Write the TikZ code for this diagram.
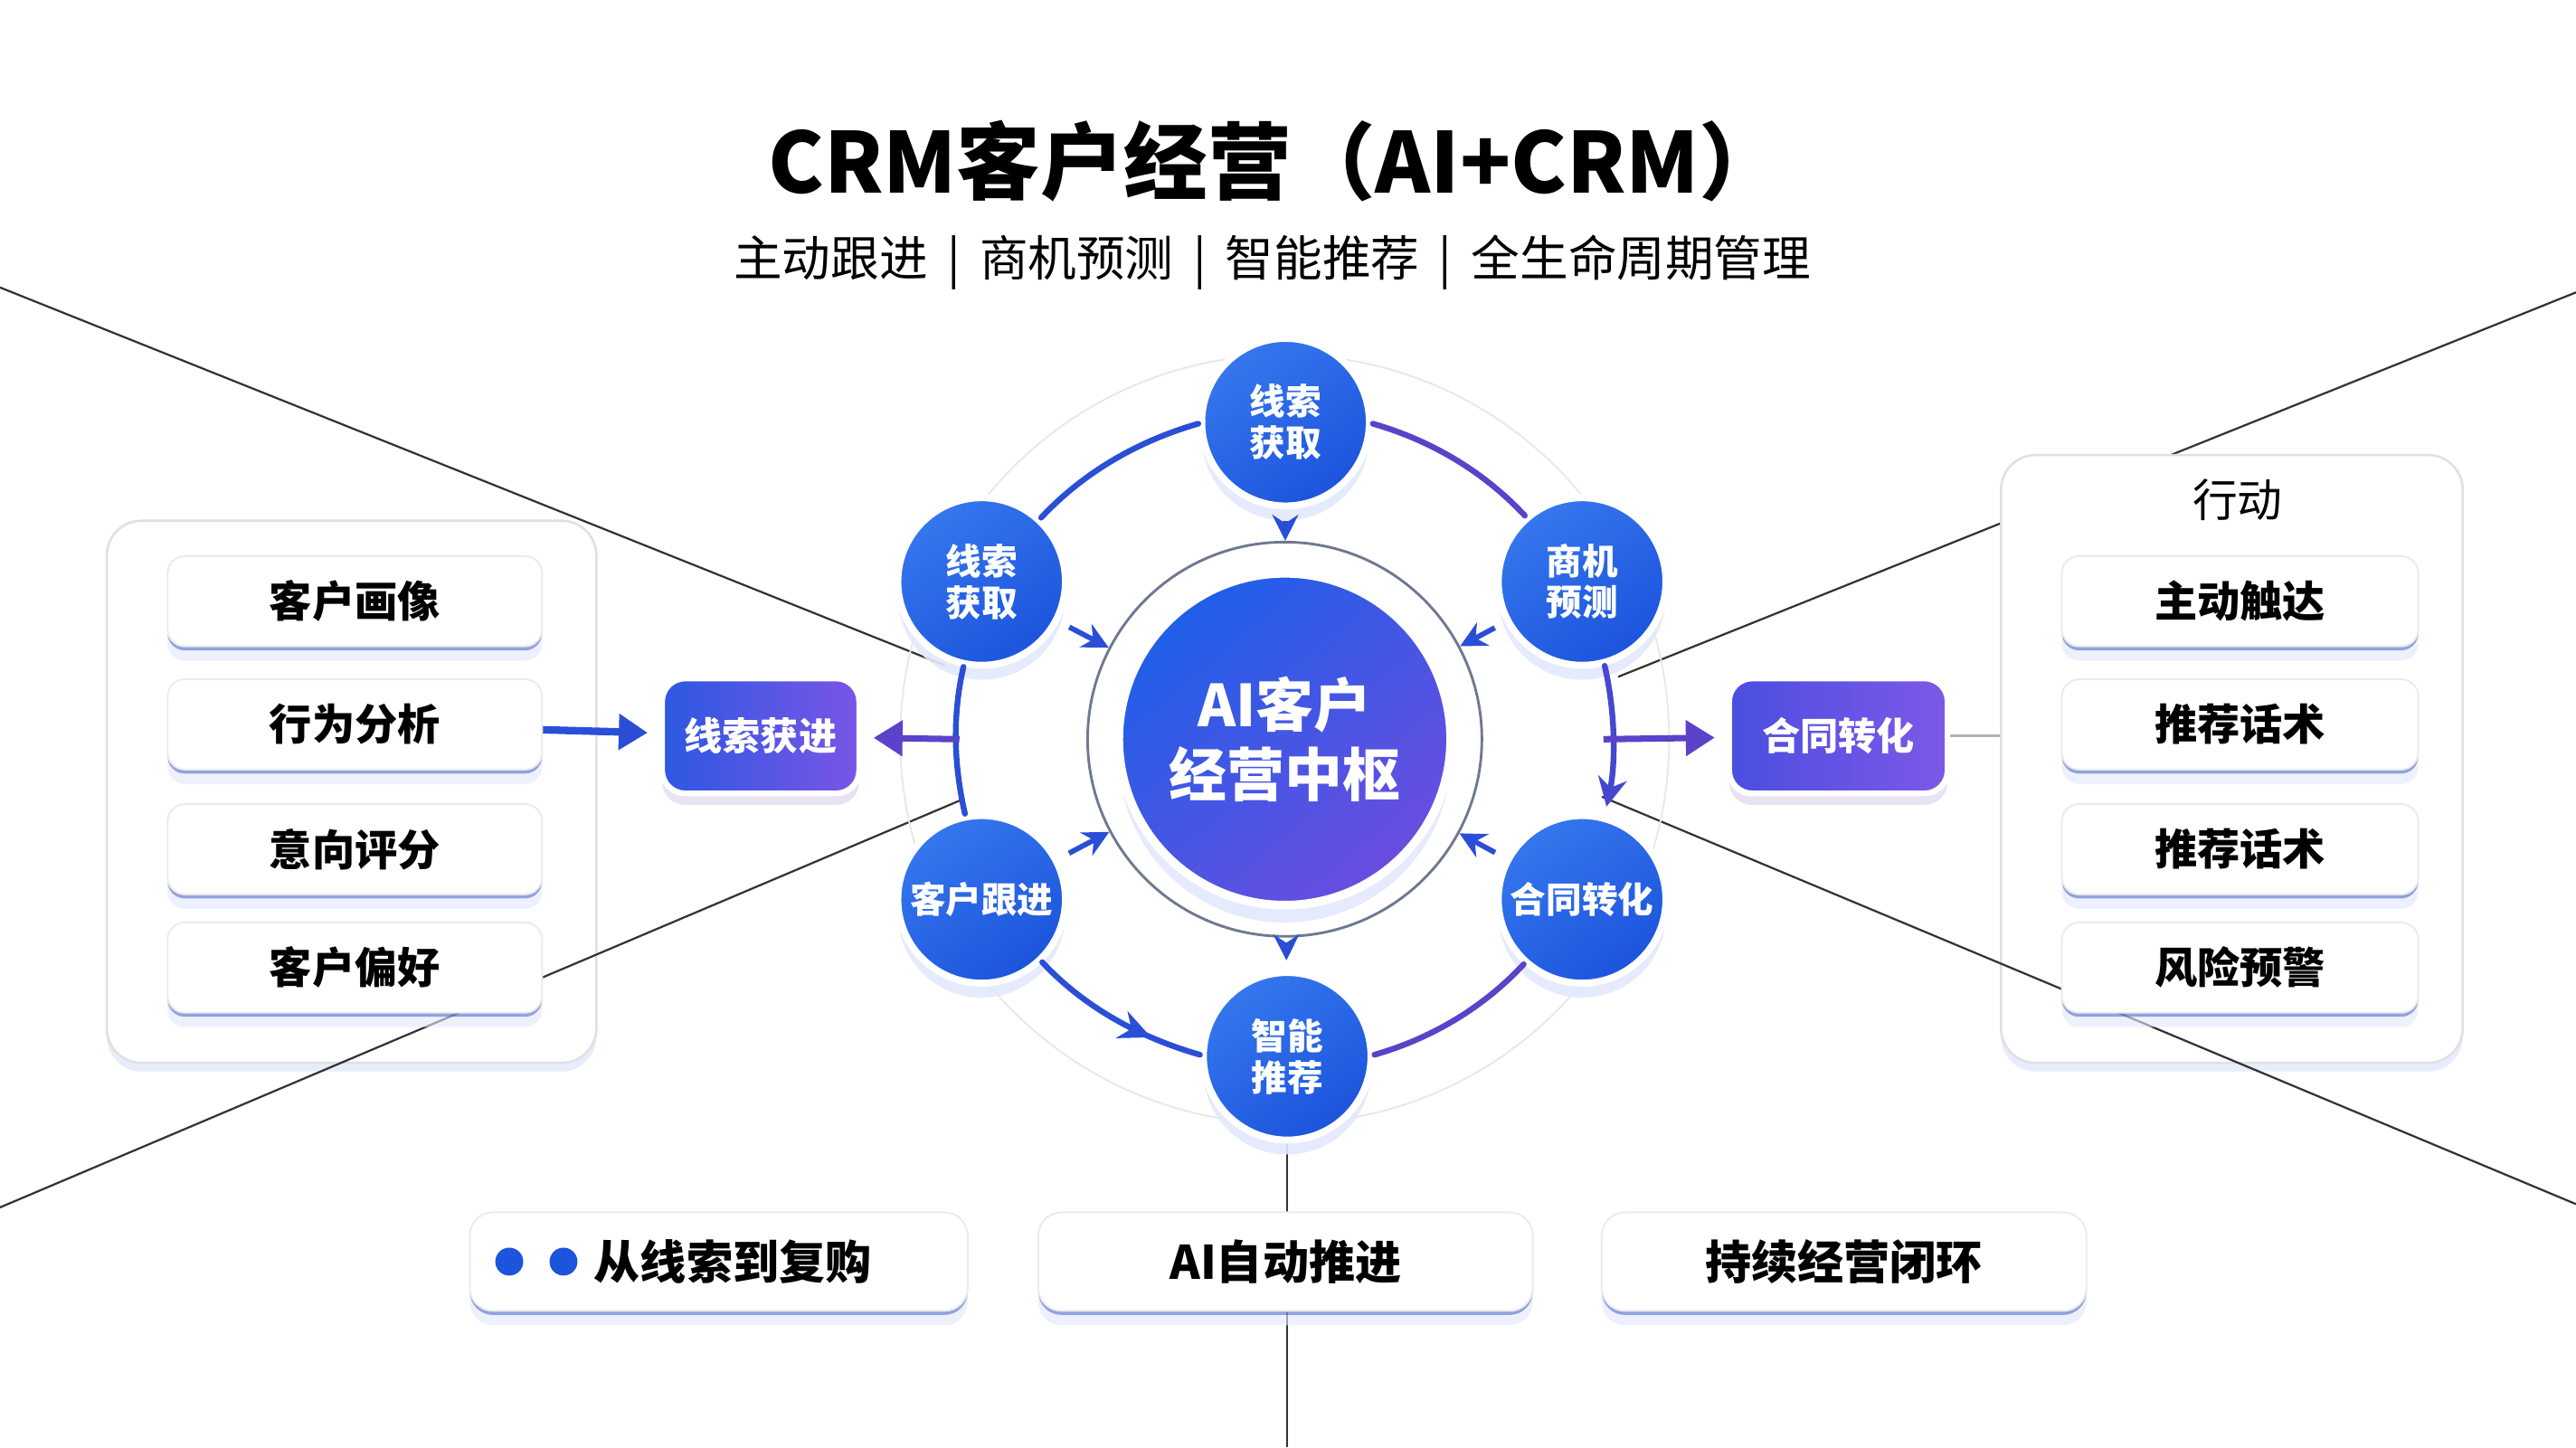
\documentclass[tikz,border=0pt]{standalone}
\usepackage{fontspec}
\setmainfont{Noto Sans CJK SC}
\usepackage{tikz}
\usetikzlibrary{arrows.meta,shadows,decorations.markings}
\definecolor{hubblue}{HTML}{1F5FE8}
\definecolor{hubpurple}{HTML}{6A4DE0}
\definecolor{satblue}{HTML}{1C54DC}
\definecolor{satlight}{HTML}{3577EE}
\definecolor{arcblue}{HTML}{2A4FD6}
\definecolor{arcpurple}{HTML}{5B42C9}
\definecolor{glowblue}{HTML}{E3E9FC}
\definecolor{edgeblue}{HTML}{3454C8}
\definecolor{leadleft}{HTML}{2C58E2}
\definecolor{leadright}{HTML}{7B55E6}
\definecolor{dealleft}{HTML}{4A4EE0}
\definecolor{dealright}{HTML}{7E58E8}
\definecolor{ringgray}{HTML}{6F7890}

\begin{document}
\begin{tikzpicture}[
  every node/.style={inner sep=0pt},
  sat/.style={circle, minimum size=1.02cm, top color=satlight, bottom color=satblue, shading angle=35,
    draw=white, line width=1.2pt, text=white, align=center, font=\bfseries\fontsize{6.2}{7.2}\selectfont,
    drop shadow={shadow xshift=0pt, shadow yshift=-2.5pt, fill=glowblue, opacity=0.9}},
  hubnode/.style={circle, minimum size=2.02cm, top color=hubblue, bottom color=hubpurple, shading angle=40,
    draw=white, line width=1.5pt, text=white, align=center, font=\bfseries\fontsize{10}{12}\selectfont,
    drop shadow={shadow xshift=0pt, shadow yshift=-3pt, fill=glowblue, opacity=0.9}},
  panel/.style={fill=white, draw=black!12, line width=0.4pt, rounded corners=6pt,
    drop shadow={shadow xshift=0pt, shadow yshift=-1.5pt, fill=glowblue, opacity=0.8}},
  item/.style={fill=white, draw=black!8, line width=0.3pt, rounded corners=3pt, minimum height=0.55cm,
    font=\bfseries\fontsize{7.4}{8.5}\selectfont,
    drop shadow={shadow xshift=0pt, shadow yshift=-2.5pt, fill=glowblue, opacity=0.6},
    drop shadow={shadow xshift=0pt, shadow yshift=-0.7pt, fill=edgeblue}},
  tag/.style={item, minimum height=0.60cm, rounded corners=4pt, font=\bfseries\fontsize{8}{9.5}\selectfont},
  flow/.style={rounded corners=4pt, minimum height=0.70cm, draw=white, line width=1pt, text=white,
    font=\bfseries\fontsize{6.6}{8}\selectfont,
    drop shadow={shadow xshift=0pt, shadow yshift=-2pt, fill=glowblue!85!violet, opacity=0.5}},
  ringarc/.style={line width=1pt, line cap=round, looseness=0.87},
  inarr/.style={draw=arcblue, line width=0.9pt, -{Stealth[length=4.5pt,width=4.5pt]}, shorten <=2pt},
  bigarr/.style={line width=1.3pt, -{Triangle[length=5pt,width=6pt]}, shorten >=2pt},
  deco/.style={draw=black!80, line width=0.35pt},
]
\useasboundingbox (0,0) rectangle (15.68,8.81);
\fill[white] (0,0) rectangle (15.68,8.81);

\node[font=\bfseries\fontsize{14.5}{16}\selectfont] (title) at (7.765,7.83) {CRM客户经营（AI+CRM）};
\node[font=\fontsize{8.4}{10}\selectfont] (subtitle) at (7.745,7.21)
  {主动跟进\hspace{0.4em}|\hspace{0.4em}商机预测\hspace{0.4em}|\hspace{0.4em}智能推荐\hspace{0.4em}|\hspace{0.4em}全生命周期管理};

\coordinate (l1a) at (0,7.06);
\coordinate (l1b) at (5.75,4.76);
\coordinate (l3a) at (15.68,7.03);
\coordinate (l3b) at (9.85,4.69);
\coordinate (l2a) at (0,1.46);
\coordinate (l2b) at (5.85,3.94);
\coordinate (l4a) at (9.75,3.96);
\coordinate (l4b) at (15.68,1.48);
\coordinate (vtop) at (7.835,2.38);
\coordinate (vbot) at (7.835,0);
\draw[deco] (l1a) -- (l1b);
\draw[deco] (l3a) -- (l3b);
\draw[deco] (vtop) -- (vbot);

\node[panel, minimum width=2.98cm, minimum height=3.30cm] (lpanel) at (2.14,3.99) {};
\node[panel, minimum width=2.81cm, minimum height=3.70cm] (rpanel) at (13.585,4.19) {};

\draw[deco] (l2a) -- (l2b);
\draw[deco] (l4a) -- (l4b);

\node[item, minimum width=2.28cm] (li1) at (2.16,5.15) {客户画像};
\node[item, minimum width=2.28cm] (li2) at (2.16,4.40) {行为分析};
\node[item, minimum width=2.28cm] (li3) at (2.16,3.64) {意向评分};
\node[item, minimum width=2.28cm] (li4) at (2.16,2.92) {客户偏好};

\node[font=\fontsize{7.8}{9}\selectfont] (rhead) at (13.62,5.77) {行动};
\node[item, minimum width=2.17cm] (ri1) at (13.635,5.15) {主动触达};
\node[item, minimum width=2.17cm] (ri2) at (13.635,4.40) {推荐话术};
\node[item, minimum width=2.17cm] (ri3) at (13.635,3.64) {推荐话术};
\node[item, minimum width=2.17cm] (ri4) at (13.635,2.92) {风险预警};

\node[flow, left color=leadleft, right color=leadright, minimum width=1.20cm] (lead) at (4.63,4.33) {线索获进};
\node[flow, left color=dealleft, right color=dealright, minimum width=1.33cm] (deal) at (11.19,4.33) {合同转化};
\draw[bigarr, draw=arcblue, fill=arcblue] (li2) -- (lead);
\draw[black!30, line width=0.4pt] (deal.east) -- (deal.east -| rpanel.west);

\node[tag, minimum width=3.03cm] (t1) at (4.375,1.13) {};
\node[circle, fill=satblue, minimum size=0.17cm] (d1) at (3.10,1.13) {};
\node[circle, fill=satblue, minimum size=0.17cm] (d2) at (3.43,1.13) {};
\node[font=\bfseries\fontsize{8}{9.5}\selectfont] (t1txt) at (4.46,1.13) {从线索到复购};
\node[tag, minimum width=3.01cm] (t2) at (7.825,1.13) {AI自动推进};
\node[tag, minimum width=2.95cm] (t3) at (11.225,1.13) {持续经营闭环};

\node[circle, draw=black!9, line width=0.3pt, minimum size=4.68cm] (halo) at (7.82,4.31) {};
\node[circle, draw=ringgray, line width=0.45pt, minimum size=2.40cm] (ring) at (7.82,4.31) {};
\node[hubnode] (hub) at (7.82,4.31) {AI客户\\经营中枢};

\node[sat] (top) at (7.825,6.24) {线索\\获取};
\node[sat] (ul) at (5.975,5.27) {线索\\获取};
\node[sat] (ur) at (9.63,5.27) {商机\\预测};
\node[sat] (ll) at (5.975,3.335) {客户跟进};
\node[sat] (lr) at (9.63,3.335) {合同转化};
\node[sat] (bot) at (7.835,2.38) {智能\\推荐};

\draw[ringarc, arcblue] (top.181) to[out=196, in=47] (ul.47);
\draw[ringarc, arcpurple] (top.359) to[out=-16, in=133] (ur.131);
\draw[ringarc, arcpurple!55!arcblue, -{Stealth[length=5pt,width=5pt]}, shorten >=1.5pt] (ur.285) to[out=-77, in=78] (lr.75);
\draw[ringarc, arcblue] (ul.258) to[out=257, in=103] (ll.101);
\draw[ringarc, arcblue, postaction={decorate}, decoration={markings,
  mark=at position 0.72 with {\arrow{Stealth[length=5.5pt,width=5pt]}}}] (ll.314) to[out=313, in=164] (bot.179);
\draw[ringarc, arcpurple] (bot.1) to[out=16, in=227] (lr.228);

\draw[inarr] (top) -- (ring);
\draw[inarr] (ul) -- (ring);
\draw[inarr] (ur) -- (ring);
\draw[inarr] (ll) -- (ring);
\draw[inarr] (lr) -- (ring);
\draw[inarr, shorten >=1.5pt] (ring) -- (bot);

\coordinate (lring) at (5.84,4.31);
\coordinate (rring) at (9.76,4.31);
\draw[bigarr, draw=arcpurple, fill=arcpurple, line width=1.1pt] (lring) -- (lead);
\draw[bigarr, draw=arcpurple, fill=arcpurple, line width=1.1pt] (rring) -- (deal);
\end{tikzpicture}
\end{document}
